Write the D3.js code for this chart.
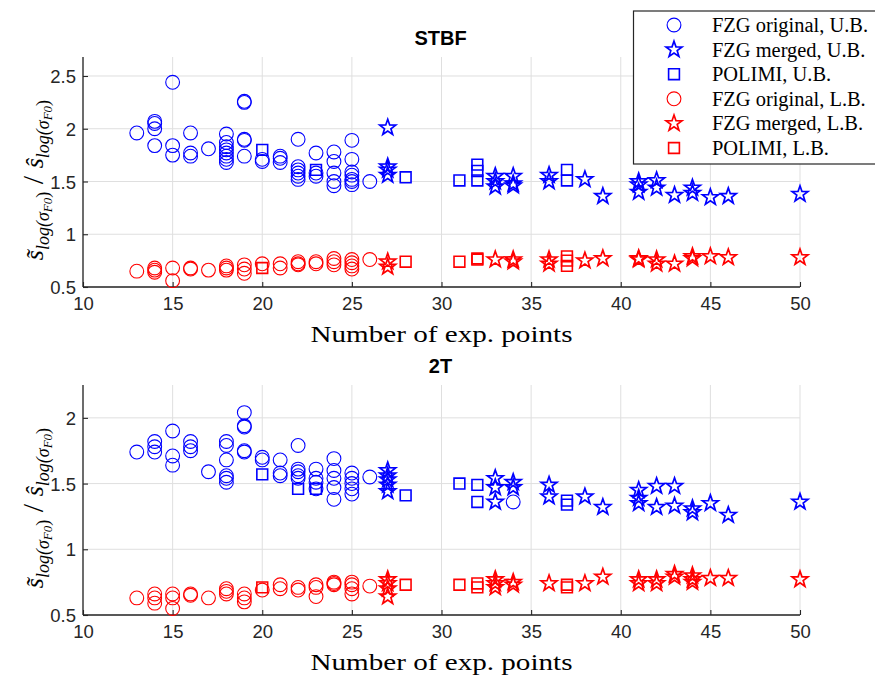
<!DOCTYPE html>
<html><head><meta charset="utf-8">
<script src="https://cdn.jsdelivr.net/npm/d3@7"></script>
<style>body{margin:0;background:#fff;} svg{display:block;}</style>
</head><body>
<script>
// ---------- DATA ----------
const xTicks = [10,15,20,25,30,35,40,45,50];
const yTicksTop = [0.5,1,1.5,2,2.5];
const yTicksBottom = [0.5,1,1.5,2];
const panelTitles = ["STBF","2T"];
const legendLabels = ["FZG original, U.B.","FZG merged, U.B.","POLIMI, U.B.","FZG original, L.B.","FZG merged, L.B.","POLIMI, L.B."];

// STBF
const stbf_fzgOrigUB = [[13,1.96],[14,2.07],[14,2.05],[14,2.00],[14,1.84],[15,2.44],[15,1.84],[15,1.75],[16,1.96],[16,1.77],[16,1.74],[17,1.81],
 [18,1.95],[18,1.87],[18,1.83],[18,1.80],[18,1.77],[18,1.74],[18,1.71],[18,1.68],[19,2.25],[19,2.26],[19,1.89],[19,1.90],[19,1.74],
 [20,1.71],[20,1.69],[21,1.74],[21,1.72],[21,1.68],[22,1.90],[22,1.64],[22,1.61],[22,1.58],[22,1.55],[22,1.52],[23,1.77],[23,1.58],[23,1.55],
 [24,1.78],[24,1.69],[24,1.58],[24,1.50],[24,1.46],[25,1.89],[25,1.71],[25,1.59],[25,1.56],[25,1.52],[25,1.50],[25,1.47],[26,1.50]];
const stbf_fzgMergedUB = [[27,2.01],[27,1.64],[27,1.61],[27,1.56],[33,1.55],[33,1.50],[33,1.45],[34,1.55],[34,1.48],[34,1.46],[36,1.56],[36,1.50],
 [38,1.52],[39,1.36],[41,1.50],[41,1.47],[41,1.40],[42,1.51],[42,1.44],[43,1.37],[44,1.44],[44,1.39],[45,1.35],[46,1.36],[50,1.38]];
const stbf_polimiUB = [[20,1.80],[23,1.61],[28,1.54],[31,1.51],[32,1.66],[32,1.60],[32,1.51],[37,1.61],[37,1.51]];
const stbf_fzgOrigLB = [[13,0.65],[14,0.68],[14,0.66],[14,0.64],[15,0.68],[15,0.56],[16,0.68],[16,0.67],[17,0.66],[18,0.70],[18,0.68],[18,0.66],
 [19,0.71],[19,0.67],[19,0.63],[20,0.72],[21,0.72],[21,0.68],[22,0.74],[22,0.72],[22,0.71],[23,0.74],[23,0.72],[24,0.77],[24,0.74],[24,0.71],
 [25,0.76],[25,0.73],[25,0.70],[25,0.67],[26,0.76]];
const stbf_fzgMergedLB = [[27,0.74],[27,0.69],[33,0.76],[34,0.76],[34,0.74],[36,0.76],[36,0.72],[38,0.75],[39,0.77],[41,0.77],[41,0.76],
 [42,0.76],[42,0.72],[43,0.72],[44,0.79],[44,0.77],[45,0.79],[46,0.78],[50,0.78]];
const stbf_polimiLB = [[20,0.68],[28,0.74],[31,0.74],[32,0.77],[32,0.76],[37,0.79],[37,0.75],[37,0.70]];

// 2T
const t2_fzgOrigUB = [[13,1.74],[14,1.82],[14,1.78],[14,1.74],[15,1.90],[15,1.71],[15,1.64],[16,1.82],[16,1.78],[16,1.75],[17,1.59],
 [18,1.82],[18,1.79],[18,1.68],[18,1.56],[18,1.54],[18,1.51],[19,2.04],[19,1.93],[19,1.94],[19,1.74],[19,1.75],[20,1.70],[20,1.68],
 [21,1.68],[21,1.58],[21,1.56],[22,1.79],[22,1.61],[22,1.59],[22,1.56],[22,1.54],[23,1.61],[23,1.54],[23,1.51],[23,1.46],
 [24,1.69],[24,1.60],[24,1.54],[24,1.47],[24,1.38],[25,1.58],[25,1.54],[25,1.50],[25,1.46],[25,1.42],[26,1.55],[34,1.36]];
const t2_fzgMergedUB = [[27,1.60],[27,1.56],[27,1.53],[27,1.49],[27,1.44],[33,1.54],[33,1.47],[33,1.36],[34,1.51],[34,1.47],[36,1.49],[36,1.40],
 [38,1.40],[39,1.32],[41,1.45],[41,1.39],[41,1.35],[42,1.48],[42,1.32],[43,1.48],[43,1.33],[44,1.31],[44,1.28],[45,1.35],[46,1.26],[50,1.36]];
const t2_polimiUB = [[20,1.57],[22,1.46],[23,1.46],[28,1.41],[31,1.50],[32,1.49],[32,1.36],[37,1.37],[37,1.34]];
const t2_fzgOrigLB = [[13,0.63],[14,0.66],[14,0.63],[14,0.59],[15,0.66],[15,0.63],[15,0.55],[16,0.66],[16,0.65],[17,0.63],[18,0.70],[18,0.68],[18,0.66],
 [19,0.66],[19,0.63],[19,0.60],[20,0.69],[21,0.73],[21,0.70],[22,0.71],[22,0.69],[23,0.73],[23,0.71],[23,0.64],[24,0.75],[24,0.74],[24,0.73],
 [25,0.75],[25,0.73],[25,0.70],[25,0.66],[26,0.72]];
const t2_fzgMergedLB = [[27,0.77],[27,0.74],[27,0.70],[27,0.64],[33,0.77],[33,0.74],[33,0.71],[34,0.75],[34,0.73],[36,0.74],[38,0.74],[39,0.79],
 [41,0.77],[41,0.74],[42,0.77],[42,0.74],[43,0.81],[43,0.79],[44,0.80],[44,0.77],[44,0.75],[45,0.78],[46,0.78],[50,0.77]];
const t2_polimiLB = [[20,0.71],[28,0.73],[31,0.73],[32,0.74],[32,0.71],[37,0.73],[37,0.71]];

// ---------- DRAWING ----------
const W = 875, H = 677;
const svg = d3.select("body").append("svg").attr("width", W).attr("height", H);
const axisColor = "#262626";
const sansFont = "'Liberation Sans', Arial, sans-serif";
const serifFont = "'Liberation Serif', 'Times New Roman', serif";

const circleSym = {draw(ctx, r){ ctx.moveTo(r,0); ctx.arc(0,0,r,0,2*Math.PI); ctx.closePath(); }};
const squareSym = {draw(ctx, r){ ctx.rect(-r,-r,2*r,2*r); }};
const starSym = {draw(ctx, r){
  for (let i=0;i<10;i++){
    const a = -Math.PI/2 + i*Math.PI/5;
    const rad = (i%2) ? r*0.40 : r;
    const px = rad*Math.cos(a), py = rad*Math.sin(a);
    if (i===0) ctx.moveTo(px,py); else ctx.lineTo(px,py);
  }
  ctx.closePath();
}};
const markerStyles = [
  {sym: circleSym, size: 6.9, color: "#0000ff", sw: 1.1},
  {sym: starSym, size: 8.4, color: "#0000ff", sw: 1.7},
  {sym: squareSym, size: 5.4, color: "#0000ff", sw: 1.6},
  {sym: circleSym, size: 6.9, color: "#ff0000", sw: 1.1},
  {sym: starSym, size: 8.4, color: "#ff0000", sw: 1.7},
  {sym: squareSym, size: 5.4, color: "#ff0000", sw: 1.6}
];

const x0 = 83, x1 = 800;
const panels = [
  {title: panelTitles[0], top: 57, bottom: 287, ydom: [0.5, 2.68], yticks: yTicksTop,
   series: [stbf_fzgOrigUB, stbf_fzgMergedUB, stbf_polimiUB, stbf_fzgOrigLB, stbf_fzgMergedLB, stbf_polimiLB]},
  {title: panelTitles[1], top: 385, bottom: 615, ydom: [0.5, 2.25], yticks: yTicksBottom,
   series: [t2_fzgOrigUB, t2_fzgMergedUB, t2_polimiUB, t2_fzgOrigLB, t2_fzgMergedLB, t2_polimiLB]}
];

function fmt(v){ return String(v); }

panels.forEach(p => {
  const xs = d3.scaleLinear().domain([10,50]).range([x0,x1]);
  const ys = d3.scaleLinear().domain(p.ydom).range([p.bottom,p.top]);
  const g = svg.append("g");

  // grid
  g.append("g").selectAll("line.vg").data(xTicks).join("line")
    .attr("x1", d=>xs(d)).attr("x2", d=>xs(d)).attr("y1", p.top).attr("y2", p.bottom)
    .attr("stroke", "#dfdfdf").attr("stroke-width", 1);
  g.append("g").selectAll("line.hg").data(p.yticks).join("line")
    .attr("x1", x0).attr("x2", x1).attr("y1", d=>ys(d)).attr("y2", d=>ys(d))
    .attr("stroke", "#dfdfdf").attr("stroke-width", 1);

  // axes
  const xAxis = d3.axisBottom(xs).tickValues(xTicks).tickSize(-5).tickPadding(10).tickFormat(fmt);
  const gx = g.append("g").attr("transform", `translate(0,${p.bottom})`).call(xAxis);
  const yAxis = d3.axisLeft(ys).tickValues(p.yticks).tickSize(-5).tickPadding(7).tickFormat(fmt);
  const gy = g.append("g").attr("transform", `translate(${x0},0)`).call(yAxis);
  [gx, gy].forEach(a => {
    a.select(".domain").attr("stroke", axisColor).attr("stroke-width", 1.3);
    a.selectAll(".tick line").attr("stroke", axisColor).attr("stroke-width", 1.1);
    a.selectAll(".tick text").attr("fill", axisColor).attr("font-family", sansFont).attr("font-size", 18.5);
  });
  gx.select(".domain").attr("d", `M${x0},0H${x1}`);
  gy.select(".domain").attr("d", `M0,${p.top}V${p.bottom}`);
  gx.selectAll(".tick text").attr("dy", "0.71em");
  gy.selectAll(".tick text").attr("dy", "0.36em");

  // title
  g.append("text").attr("x", (x0+x1)/2 - 1).attr("y", p.top - 12).attr("text-anchor", "middle")
    .attr("font-family", sansFont).attr("font-weight", "bold").attr("font-size", 20).attr("fill", "#000")
    .text(p.title);

  // x label
  g.append("text").attr("x", (x0+x1)/2).attr("y", p.bottom + 55).attr("text-anchor", "middle")
    .attr("font-family", serifFont).attr("font-size", 24).attr("fill", "#000")
    .attr("textLength", 262).attr("lengthAdjust", "spacingAndGlyphs")
    .text("Number of exp. points");

  // y label (math)
  const cy = (p.top + p.bottom)/2 + 8;
  const yl = g.append("text").attr("transform", `translate(43,${cy}) rotate(-90)`)
    .attr("text-anchor", "middle").attr("font-family", serifFont).attr("fill", "#000").attr("font-size", 26);
  const addTerm = (sym) => {
    yl.append("tspan").attr("font-style", "italic").text(sym);
    yl.append("tspan").attr("font-size", 18).attr("font-style", "italic").attr("dy", 6).text("log(σ");
    yl.append("tspan").attr("font-size", 13).attr("font-style", "italic").attr("dy", 3).text("F0");
    yl.append("tspan").attr("font-size", 18).attr("dy", -3).text(")");
  };
  addTerm("s\u0303");
  yl.append("tspan").attr("dy", -6).attr("font-size", 30).text(" / ");
  addTerm("\u015D");

  // points
  p.series.forEach((data, i) => {
    const st = markerStyles[i];
    g.append("g").selectAll("path").data(data).join("path")
      .attr("transform", d => `translate(${xs(d[0])},${ys(d[1])})`)
      .attr("d", d3.symbol().type(st.sym).size(st.size))
      .attr("fill", "none").attr("stroke", st.color).attr("stroke-width", st.sw);
  });
});

// legend
const lg = svg.append("g");
lg.append("rect").attr("x", 633.5).attr("y", 11).attr("width", 260).attr("height", 153)
  .attr("fill", "#fff").attr("stroke", axisColor).attr("stroke-width", 1.2);
const rowY = d3.scaleLinear().domain([0,5]).range([25,148]);
let legendScale = null;
legendLabels.forEach((lab, i) => {
  const st = markerStyles[i];
  lg.append("path").attr("transform", `translate(674,${rowY(i)})`)
    .attr("d", d3.symbol().type(st.sym).size(st.size))
    .attr("fill", "none").attr("stroke", st.color).attr("stroke-width", st.sw);
  const t = lg.append("text").attr("x", 712).attr("y", rowY(i)).attr("dy", "0.35em")
    .attr("font-family", serifFont).attr("font-size", 20).attr("fill", "#000").text(lab);
  const len = t.node().getComputedTextLength();
  if (legendScale === null) legendScale = 156 / len;
  t.attr("textLength", len * legendScale).attr("lengthAdjust", "spacingAndGlyphs");
});
</script>
</body></html>
